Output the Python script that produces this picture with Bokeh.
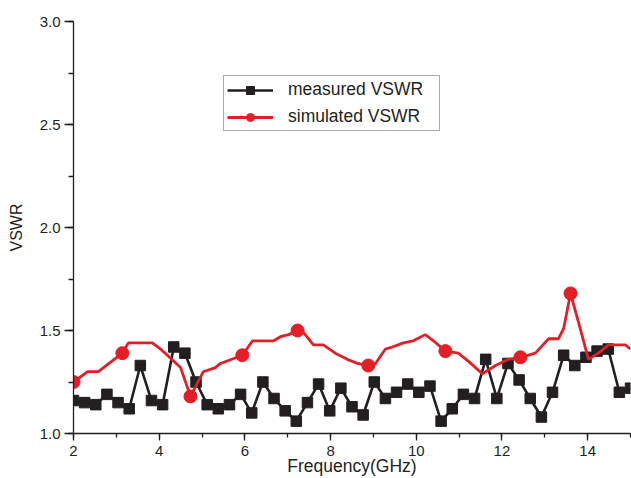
from bokeh.plotting import figure
from bokeh.models import Range1d, SingleIntervalTicker, PrintfTickFormatter, Legend, LegendItem
from bokeh.embed import file_html
from bokeh.resources import INLINE

# measured VSWR (black squares)
meas_x = [2.00, 2.26, 2.52, 2.78, 3.04, 3.30, 3.56, 3.82, 4.08, 4.34, 4.60, 4.86, 5.12,
          5.38, 5.64, 5.90, 6.16, 6.42, 6.68, 6.94, 7.20, 7.46, 7.72, 7.98, 8.24, 8.50,
          8.76, 9.02, 9.28, 9.54, 9.80, 10.06, 10.32, 10.58, 10.84, 11.10, 11.36, 11.62,
          11.88, 12.14, 12.40, 12.66, 12.92, 13.18, 13.44, 13.70, 13.96, 14.22, 14.48,
          14.74, 15.00]
meas_y = [1.16, 1.15, 1.14, 1.19, 1.15, 1.12, 1.33, 1.16, 1.14, 1.42, 1.39, 1.25, 1.14,
          1.12, 1.14, 1.19, 1.10, 1.25, 1.17, 1.11, 1.06, 1.15, 1.24, 1.11, 1.22, 1.13,
          1.09, 1.25, 1.17, 1.20, 1.24, 1.20, 1.23, 1.06, 1.12, 1.19, 1.17, 1.36,
          1.17, 1.34, 1.26, 1.17, 1.08, 1.20, 1.38, 1.33, 1.37, 1.40, 1.41,
          1.20, 1.22]

# simulated VSWR (red line)
sim_x = [2.0, 2.33, 2.58, 3.14, 3.28, 3.84, 4.03, 4.50, 4.73, 5.03, 5.31, 5.43, 5.94,
         6.18, 6.36, 6.67, 6.83, 7.02, 7.23, 7.37, 7.60, 7.83, 8.11, 8.39, 8.63, 8.88,
         9.05, 9.28, 9.44, 9.70, 9.93, 10.21, 10.40, 10.68, 10.98, 11.22, 11.54, 11.85,
         12.15, 12.43, 12.78, 13.09, 13.32, 13.44, 13.60, 13.76, 14.02, 14.25, 14.49,
         14.88, 15.0]
sim_y = [1.25, 1.30, 1.30, 1.39, 1.44, 1.44, 1.41, 1.32, 1.18, 1.30, 1.32, 1.34, 1.38,
         1.45, 1.45, 1.45, 1.47, 1.48, 1.50, 1.49, 1.43, 1.43, 1.39, 1.36, 1.34, 1.33,
         1.34, 1.41, 1.42, 1.44, 1.45, 1.48, 1.45, 1.40, 1.39, 1.35, 1.29, 1.33,
         1.36, 1.37, 1.39, 1.46, 1.46, 1.51, 1.68, 1.56, 1.36, 1.39, 1.43,
         1.43, 1.41]
sim_marker_idx = [0, 3, 8, 12, 18, 25, 33, 39, 44]

mk_x = [sim_x[i] for i in sim_marker_idx]
mk_y = [sim_y[i] for i in sim_marker_idx]

BLACK = "#231F20"
RED = "#E31E26"
FONT = "Liberation Sans"

p = figure(width=631, height=478, output_backend="svg", toolbar_location=None,
           x_range=Range1d(2, 15), y_range=Range1d(1.0, 3.0),
           min_border_left=73, min_border_right=1, min_border_top=21, min_border_bottom=45)
p.outline_line_color = None
p.xgrid.visible = False
p.ygrid.visible = False
p.background_fill_color = "white"
p.border_fill_color = "white"

l1 = p.line(meas_x, meas_y, line_color=BLACK, line_width=2.6)
s1 = p.scatter(meas_x, meas_y, marker="square", size=10.5, fill_color=BLACK, line_color=BLACK)
l2 = p.line(sim_x, sim_y, line_color=RED, line_width=2.8)
s2 = p.scatter(mk_x, mk_y, marker="circle", size=13, fill_color=RED, line_color=RED)

for ax in (p.xaxis[0], p.yaxis[0]):
    ax.axis_line_color = BLACK
    ax.axis_line_width = 1.3
    ax.major_tick_line_color = BLACK
    ax.minor_tick_line_color = BLACK
    ax.major_tick_line_width = 1.3
    ax.minor_tick_line_width = 1.3
    ax.major_tick_in = 0
    ax.minor_tick_in = 0
    ax.major_label_text_font = FONT
    ax.major_label_text_font_size = "15px"
    ax.major_label_text_color = BLACK
    ax.axis_label_text_font = FONT
    ax.axis_label_text_font_style = "normal"
    ax.axis_label_text_color = BLACK

p.xaxis.axis_label_text_font_size = "17.5px"
p.yaxis.axis_label_text_font_size = "16px"
p.xaxis.ticker = SingleIntervalTicker(interval=2, num_minor_ticks=2)
p.yaxis.ticker = SingleIntervalTicker(interval=0.5, num_minor_ticks=2)
p.yaxis.formatter = PrintfTickFormatter(format="%.1f")
p.xaxis.major_tick_out = 7
p.xaxis.minor_tick_out = 4
p.yaxis.major_tick_out = 9
p.yaxis.minor_tick_out = 5
p.xaxis.major_label_standoff = 5
p.yaxis.major_label_standoff = 4
p.xaxis.axis_label = "Frequency(GHz)"
p.yaxis.axis_label = "VSWR"
p.xaxis.axis_label_standoff = -3
p.yaxis.axis_label_standoff = 12

legend = Legend(items=[LegendItem(label="measured VSWR", renderers=[l1, s1]),
                       LegendItem(label="simulated VSWR", renderers=[l2, s2])],
                location=(150, 302))
legend.label_text_font = FONT
legend.label_text_font_size = "17.5px"
legend.label_text_color = BLACK
legend.border_line_color = "#555555"
legend.border_line_width = 1
legend.padding = 3
legend.margin = 0
legend.spacing = 6
legend.glyph_width = 46
legend.glyph_height = 20
legend.label_standoff = 15
legend.label_width = 148
legend.background_fill_alpha = 1
p.add_layout(legend, "center")

open("out.html", "w").write(file_html(p, INLINE))
